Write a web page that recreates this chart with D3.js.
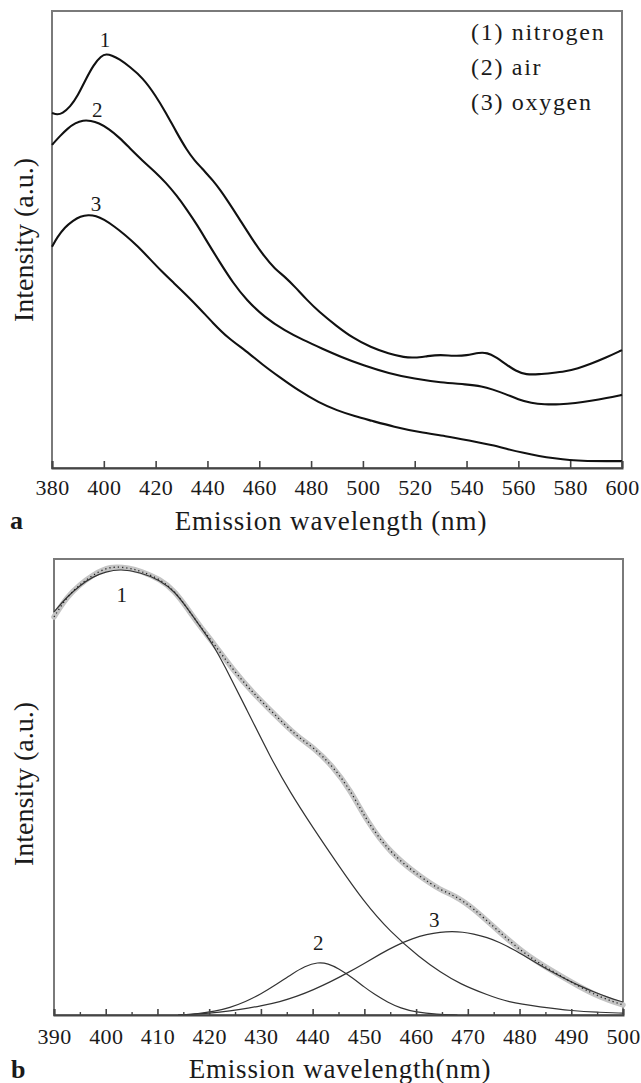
<!DOCTYPE html>
<html>
<head>
<meta charset="utf-8">
<script src="https://cdn.jsdelivr.net/npm/d3@7"></script>
<style>
  html, body { margin: 0; padding: 0; background: #fff; }
  svg { display: block; }
</style>
</head>
<body>
<svg id="chart" width="641" height="1083"></svg>
<script>
// ---------- Panel a data ----------
const topTicks = [380, 400, 420, 440, 460, 480, 500, 520, 540, 560, 580, 600];
const legendLabels = ["(1) nitrogen", "(2) air", "(3) oxygen"];
const curveLabelsA = ["1", "2", "3"];

const nitrogen = [[380,77.7],[382,77.3],[384,77.6],[387,79],[390,81.5],[393,85],[396,88.2],[399,90.2],[401,90.6],[403,90.3],[406,89.5],[410,87.8],[415,85.4],[420,81.5],[424,77.7],[428,73.5],[432,69.6],[435,67.3],[438,65.5],[440,64.2],[442,63.0],[445,60.8],[448,58.3],[452,54.8],[457,50.3],[462,46.2],[466,43.6],[470,41.8],[474,39.5],[478,37],[483,34.2],[490,31],[496,28.5],[503,26.4],[510,25],[516,24.2],[520,24.1],[525,24.5],[530,24.8],[535,24.5],[540,24.6],[545,25.3],[548,25.2],[551,24.4],[555,22.8],[559,21.2],[563,20.4],[568,20.5],[573,20.8],[578,21.1],[583,21.8],[588,22.8],[594,24.2],[600,25.8]];

const air = [[380,70.7],[383,72.6],[386,74.3],[389,75.5],[392,76.1],[395,76.0],[398,75.5],[402,74.2],[406,72.3],[410,70],[415,67.2],[420,64.7],[424,62.4],[428,59.7],[432,56.6],[436,53.2],[440,49.4],[445,44.8],[450,40.4],[455,36.8],[462,33.0],[470,30],[477,28],[484,26.2],[492,24.2],[500,22.5],[510,20.7],[520,19.5],[530,18.7],[540,18.3],[546,17.9],[550,17.2],[555,16.2],[560,15],[565,14.2],[570,13.9],[576,13.9],[582,14.2],[588,14.7],[594,15.3],[600,16.0]];

const oxygen = [[380,48.4],[382,50.5],[385,52.7],[388,54.1],[391,55.1],[394,55.4],[397,55.2],[400,54.4],[404,52.9],[408,51.1],[413,48.6],[418,45.6],[422,43.2],[427,40.5],[432,37.8],[437,34.9],[442,31.8],[448,28.4],[455,25.6],[461,22.7],[468,19.8],[475,17],[483,14.3],[490,12.6],[497,11.3],[503,10.4],[512,9],[522,7.8],[532,7],[541,6],[550,5],[556,4.1],[562,3.3],[568,2.6],[574,2.1],[580,1.7],[585,1.5],[600,1.5]];

// ---------- Panel b data ----------
const bottomTicks = [390, 400, 410, 420, 430, 440, 450, 460, 470, 480, 490, 500];
const bottomMinorTicks = [395, 405, 415, 425, 435, 445, 455, 465, 475, 485, 495];
const curveLabelsB = ["1", "2", "3"];

const measured = [[390,87.3],[392.5,91.7],[395,94.4],[397.5,96.5],[400.8,98.5],[404.7,98.0],[406.6,97.4],[410.5,95.6],[413.4,92.9],[415.7,89.3],[418.2,85.3],[420.8,81.6],[424.6,75.7],[428.5,70.6],[432.4,66.2],[437,61.0],[440.1,58.8],[444,54.4],[447.3,49.3],[450.5,42.5],[455,35.5],[460.8,30.3],[464.7,27.4],[467.6,26.1],[471,23.5],[475.7,18.6],[480.7,13.6],[485.9,9.9],[491.7,6.1],[495.6,3.9],[500,2.2]];

const peak1 = [[390,88.4],[392.5,91.7],[395,94.2],[397.5,96.1],[400,97.2],[402.8,97.8],[406.6,97.1],[410.5,95.4],[413.4,92.8],[415.7,89.3],[418.2,85.3],[420.8,81.1],[422.7,77.2],[427.3,66.9],[431.8,56.6],[435.6,48.9],[440.1,41.0],[444.7,33.3],[449.8,25.0],[455.0,18.2],[460.8,12.5],[464.7,9.4],[468.5,6.8],[473.8,4.4],[477.6,2.85],[484,1.75],[490.4,0.9],[495,0.6],[500,0.4]];

const peak2 = [[414,0],[418,0.3],[421,0.8],[424,1.6],[427,2.9],[430,4.6],[433,6.7],[436,9.0],[438.5,10.7],[441,11.6],[443,11.3],[445,10.2],[447.8,8.1],[450,6.1],[452,4.5],[454.5,2.8],[457,1.5],[460,0.6],[464,0.15],[468,0]];

const peak3 = [[414,0],[418,0.2],[422,0.6],[426,1.2],[430,2.0],[433.7,2.9],[437,4.1],[440.1,5.5],[443.5,7.3],[446.7,9.2],[450,11.3],[453.1,13.4],[456,15.2],[459.4,16.8],[462,17.7],[464.7,18.2],[467,18.3],[469,18.2],[471,17.8],[473.8,17.0],[476,16.0],[478.8,14.4],[481.5,12.6],[484,10.9],[486.5,9.3],[489.2,7.7],[491.8,6.3],[494.3,5.1],[497,3.9],[500,2.85]];

// ---------- Drawing ----------
const FONT = "Liberation Serif";
const svg = d3.select("#chart").attr("font-family", FONT);

function txt(parent) {
  return parent.append("text").attr("font-family", FONT).attr("fill", "#1a1a1a");
}

function panel(opts) {
  const g = svg.append("g");
  const x = d3.scaleLinear().domain(opts.xDomain).range([opts.left, opts.right]);
  const y = d3.scaleLinear().domain([0, 100]).range([opts.bottom, opts.top]);
  g.append("rect")
    .attr("x", opts.left).attr("y", opts.top)
    .attr("width", opts.right - opts.left).attr("height", opts.bottom - opts.top)
    .attr("fill", "none").attr("stroke", "#7a7a7a").attr("stroke-width", 2);
  return { g, x, y };
}

function styleAxis(ax) {
  ax.attr("font-family", FONT);
  ax.select(".domain").attr("stroke", "#444").attr("stroke-width", 2);
  ax.selectAll(".tick line").attr("stroke", "#444").attr("stroke-width", 1.6);
  ax.selectAll(".tick text").attr("font-family", FONT).attr("font-size", 22)
    .attr("fill", "#1a1a1a").attr("letter-spacing", "0.4px");
}

// ===== Panel a =====
const A = panel({ xDomain: [380, 600], left: 52, right: 622, top: 11, bottom: 468 });
const lineA = d3.line().x(d => A.x(d[0])).y(d => A.y(d[1])).curve(d3.curveBasis);

[nitrogen, air, oxygen].forEach(s => {
  A.g.append("path").datum(s).attr("d", lineA)
    .attr("fill", "none").attr("stroke", "#111").attr("stroke-width", 2.1)
    .attr("stroke-linejoin", "round");
});

const axA = A.g.append("g").attr("transform", "translate(0,468)")
  .call(d3.axisBottom(A.x).tickValues(topTicks).tickSize(-7).tickPadding(11).tickFormat(d3.format("d")));
styleAxis(axA);

const labPosA = [[400.5, 47], [397.5, 117], [397, 211]];
curveLabelsA.forEach((t, i) => {
  txt(A.g).attr("x", A.x(labPosA[i][0])).attr("y", labPosA[i][1])
    .attr("text-anchor", "middle").attr("font-size", 21).text(t);
});

legendLabels.forEach((t, i) => {
  txt(A.g).attr("x", 471).attr("y", 40 + i * 35)
    .attr("font-size", 24).attr("letter-spacing", "1.7px").text(t);
});

txt(svg).attr("x", 331).attr("y", 530).attr("text-anchor", "middle")
  .attr("font-size", 27).attr("letter-spacing", "0.9px").text("Emission wavelength (nm)");
txt(svg).attr("transform", "translate(33,240) rotate(-90)").attr("text-anchor", "middle")
  .attr("font-size", 28).text("Intensity (a.u.)");
txt(svg).attr("x", 10).attr("y", 529).attr("font-size", 26).attr("font-weight", "bold").text("a");

// ===== Panel b =====
const B = panel({ xDomain: [390, 500], left: 54, right: 623, top: 559, bottom: 1015 });
const lineB = d3.line().x(d => B.x(d[0])).y(d => B.y(d[1])).curve(d3.curveBasis);

B.g.append("path").datum(measured).attr("d", lineB)
  .attr("fill", "none").attr("stroke", "#c4c4c4").attr("stroke-width", 5.5)
  .attr("stroke-linecap", "round").attr("stroke-linejoin", "round");

[peak1, peak2, peak3].forEach(s => {
  B.g.append("path").datum(s).attr("d", lineB)
    .attr("fill", "none").attr("stroke", "#333").attr("stroke-width", 1.2);
});

B.g.append("path").datum(measured).attr("d", lineB)
  .attr("fill", "none").attr("stroke", "#222").attr("stroke-width", 1.3)
  .attr("stroke-dasharray", "1.2,3");

const axB = B.g.append("g").attr("transform", "translate(0,1015)")
  .call(d3.axisBottom(B.x).tickValues(bottomTicks).tickSize(-6).tickPadding(13).tickFormat(d3.format("d")));
styleAxis(axB);

const axBm = B.g.append("g").attr("transform", "translate(0,1015)")
  .call(d3.axisBottom(B.x).tickValues(bottomMinorTicks).tickSize(-3).tickFormat(""));
axBm.select(".domain").remove();
axBm.selectAll(".tick line").attr("stroke", "#444").attr("stroke-width", 1.4);

const labPosB = [[403.1, 602], [441.1, 950], [463.5, 927]];
curveLabelsB.forEach((t, i) => {
  txt(B.g).attr("x", B.x(labPosB[i][0])).attr("y", labPosB[i][1])
    .attr("text-anchor", "middle").attr("font-size", 21).text(t);
});

txt(svg).attr("x", 340).attr("y", 1078).attr("text-anchor", "middle")
  .attr("font-size", 27).attr("letter-spacing", "0.8px").text("Emission wavelength(nm)");
txt(svg).attr("transform", "translate(33,784) rotate(-90)").attr("text-anchor", "middle")
  .attr("font-size", 28).text("Intensity (a.u.)");
txt(svg).attr("x", 11).attr("y", 1078).attr("font-size", 26).attr("font-weight", "bold").text("b");
</script>
</body>
</html>
